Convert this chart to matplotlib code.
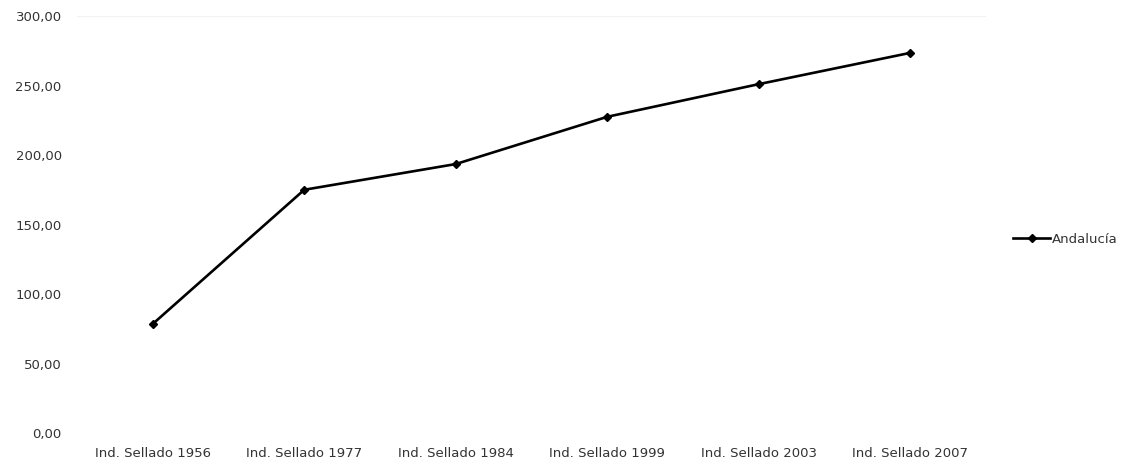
import matplotlib
matplotlib.use('Agg')
from matplotlib import pyplot as plt
from matplotlib.ticker import FuncFormatter

categorias = ['Ind. Sellado 1956', 'Ind. Sellado 1977', 'Ind. Sellado 1984',
              'Ind. Sellado 1999', 'Ind. Sellado 2003', 'Ind. Sellado 2007']
andalucia = [78.5, 175.0, 193.5, 227.5, 251.0, 273.5]
y_ticks = [0, 50, 100, 150, 200, 250, 300]

plt.rcParams['font.family'] = ['DejaVu Sans']

fig = plt.figure(figsize=(11.26, 4.59), dpi=100)
ax = fig.add_axes([0.0684, 0.0566, 0.8073, 0.9085])

x = range(len(categorias))
ax.plot(x, andalucia, color='black', linewidth=1.9, marker='D', markersize=4.5,
        label='Andalucía')

ax.set_xlim(-0.5, len(categorias) - 0.5)
ax.set_ylim(0, 300)
ax.set_yticks(y_ticks)
ax.yaxis.set_major_formatter(FuncFormatter(lambda v, p: f'{v:.2f}'.replace('.', ',')))
ax.set_xticks(list(x))
ax.set_xticklabels(categorias)

for s in ax.spines.values():
    s.set_visible(False)
ax.tick_params(axis='both', length=0, labelsize=9.5, colors='#333333')
ax.tick_params(axis='y', pad=11)
ax.tick_params(axis='x', pad=10)
ax.axhline(300, color='#f2f2f2', linewidth=0.8, zorder=0)

ax.legend(loc='center left', bbox_to_anchor=(1.024, 0.465), frameon=False,
          fontsize=9.5, handlelength=2.8, handletextpad=0.1, borderaxespad=0,
          labelcolor='#333333')

fig.savefig('out.png', dpi=100)
